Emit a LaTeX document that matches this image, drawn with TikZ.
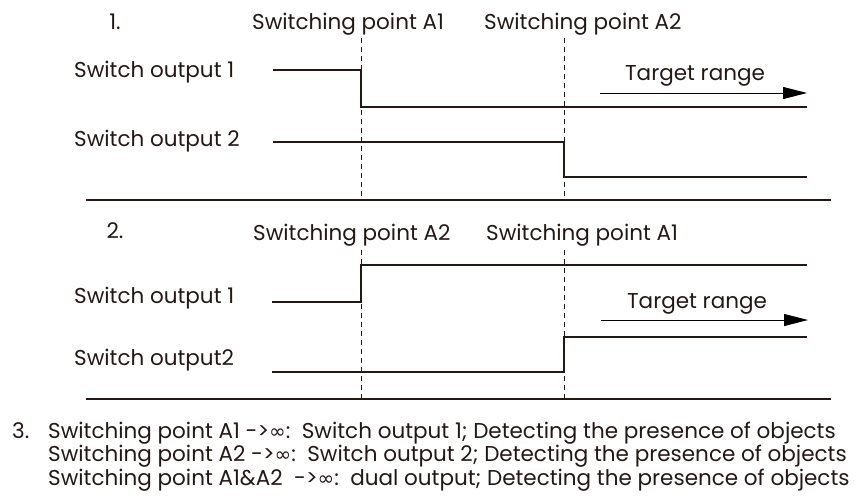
\documentclass[tikz,border=0pt]{standalone}
\usepackage{fontspec}
\setmainfont{Poppins}
\newfontfamily\inffont{DejaVu Sans}
\usetikzlibrary{arrows.meta}
\definecolor{ink}{RGB}{35,24,21}
\newcommand\tendsinf{->{\inffont\fontsize{20}{23.5}\selectfont ∞}}
\tikzset{
  lbl/.style={font=\fontsize{21.5}{23.5}\selectfont, text=ink, inner sep=0pt},
  sig/.style={draw=ink, line width=2pt},
  sep/.style={draw=ink, line width=1.4pt},
  guide/.style={draw=ink, line width=0.8pt, dash pattern=on 5pt off 4pt},
  tgt/.style={draw=black, line width=1pt, ->},
}
\begin{document}
\begin{tikzpicture}[x=1pt, y=-1pt, >={Triangle[length=24pt,width=12pt]}]
  \useasboundingbox (0,0) rectangle (866,495);

  % 1. A1 first, then A2
  \node[lbl, anchor=base] (num1) at (115,30) {1.};
  \node[lbl, anchor=base west] (swA1) at (252,30) {Switching point A1};
  \node[lbl, anchor=base west] (swA2) at (484,30) {Switching point A2};
  \node[lbl, anchor=base west] (outa) at (74,77) {Switch output 1};
  \node[lbl, anchor=base west] (outb) at (74,146) {Switch output 2};
  \node[lbl, anchor=base] (tgt1) at (695,80) {Target range};
  \draw[guide] (361,38) -- (361,200);
  \draw[guide] (564,38) -- (564,200);
  \draw[sig] (273,70) -- (361,70) -- (361,107) -- (807,107);
  \draw[sig] (273,142) -- (564,142) -- (564,177) -- (807,177);
  \draw[tgt] (600,93) -- (807,93);
  \draw[sep] (86,200) -- (831,200);

  % 2. A2 first, then A1
  \node[lbl, anchor=base] (num2) at (115,238) {2.};
  \node[lbl, anchor=base west] (swA2b) at (253,240) {Switching point A2};
  \node[lbl, anchor=base west] (swA1b) at (486,240) {Switching point A1};
  \node[lbl, anchor=base west] (outc) at (74,303) {Switch output 1};
  \node[lbl, anchor=base west] (outd) at (74,365) {Switch output2};
  \node[lbl, anchor=base] (tgt2) at (697,308) {Target range};
  \draw[guide] (361,250) -- (361,399);
  \draw[guide] (564,250) -- (564,399);
  \draw[sig] (272,302) -- (361,302) -- (361,265) -- (807,265);
  \draw[sig] (272,372) -- (564,372) -- (564,337) -- (807,337);
  \draw[tgt] (601,320) -- (808,320);
  \draw[sep] (86,399) -- (831,399);

  % 3. notes (base = last line)
  \node[lbl, anchor=base west, align=left] (notes) at (12,485)
    {\makebox[36pt][l]{3.}Switching point A1 \tendsinf:\ \ Switch output 1; Detecting the presence of objects\\
     \hspace*{36pt}Switching point A2 \tendsinf:\ \ Switch output 2; Detecting the presence of objects\\
     \hspace*{36pt}Switching point A1\&A2\ \ \tendsinf:\ \ dual output; Detecting the presence of objects};
\end{tikzpicture}
\end{document}
